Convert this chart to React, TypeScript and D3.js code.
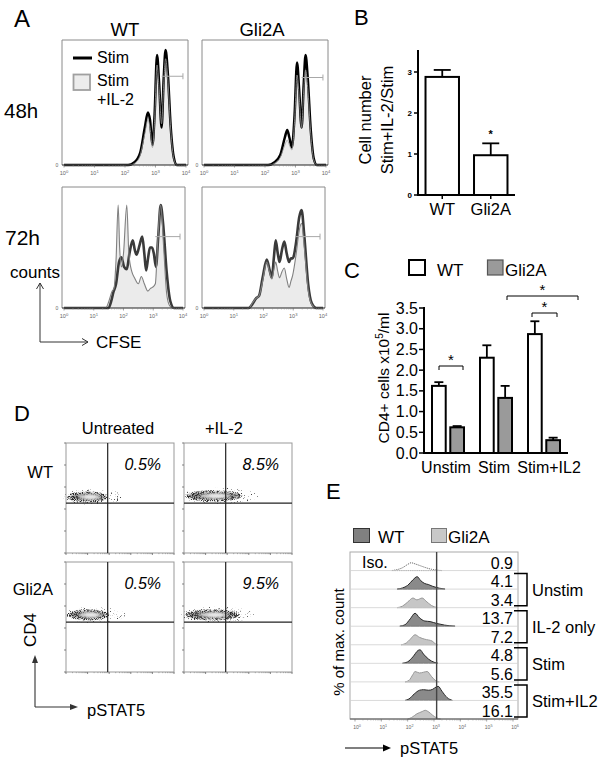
import React from "react";
import * as d3 from "d3";

type P = [number, number];
const FONT = "'Liberation Sans', Arial, Helvetica, sans-serif";

// ---------- Panel A data: [log10 CFSE, relative count] ----------
const wt48Stim: P[] = [[0,0],[2.1,0],[2.3,0.02],[2.5,0.1],[2.65,0.3],[2.75,0.42],[2.82,0.36],[2.9,0.16],[2.97,0.4],[3.05,0.88],[3.12,0.65],[3.2,0.3],[3.27,0.7],[3.33,0.92],[3.4,0.75],[3.5,0.3],[3.6,0.06],[3.7,0],[4,0]];
const wt48Il2: P[] = [[0,0],[2.15,0],[2.35,0.02],[2.5,0.08],[2.65,0.25],[2.75,0.36],[2.82,0.3],[2.9,0.14],[2.97,0.35],[3.05,0.8],[3.12,0.6],[3.2,0.33],[3.27,0.65],[3.33,0.85],[3.4,0.7],[3.5,0.28],[3.6,0.05],[3.7,0],[4,0]];
const gli48Stim: P[] = [[0,0],[2.1,0],[2.3,0.02],[2.5,0.08],[2.65,0.22],[2.73,0.28],[2.8,0.22],[2.88,0.14],[2.97,0.4],[3.05,0.82],[3.12,0.6],[3.2,0.3],[3.27,0.65],[3.33,0.88],[3.4,0.7],[3.5,0.28],[3.6,0.05],[3.7,0],[4,0]];
const gli48Il2: P[] = [[0,0],[2.15,0],[2.35,0.02],[2.5,0.06],[2.65,0.16],[2.73,0.2],[2.8,0.16],[2.88,0.12],[2.97,0.35],[3.05,0.72],[3.12,0.55],[3.2,0.3],[3.27,0.6],[3.33,0.76],[3.4,0.62],[3.5,0.25],[3.6,0.04],[3.7,0],[4,0]];
const wt72Stim: P[] = [[0,0],[1.5,0],[1.58,0.05],[1.66,0.13],[1.75,0.2],[1.85,0.38],[1.93,0.42],[2.02,0.34],[2.11,0.32],[2.2,0.45],[2.31,0.56],[2.38,0.48],[2.44,0.44],[2.54,0.52],[2.63,0.59],[2.7,0.45],[2.76,0.31],[2.83,0.42],[2.89,0.5],[2.96,0.5],[3.02,0.45],[3.09,0.34],[3.17,0.6],[3.25,0.85],[3.33,0.7],[3.45,0.3],[3.57,0.06],[3.7,0],[4,0]];
const wt72Il2: P[] = [[0,0],[1.4,0],[1.5,0.05],[1.62,0.14],[1.68,0.16],[1.75,0.4],[1.82,0.85],[1.87,0.5],[1.93,0.34],[2.0,0.45],[2.11,0.85],[2.18,0.45],[2.28,0.3],[2.37,0.25],[2.5,0.2],[2.6,0.26],[2.7,0.2],[2.82,0.14],[2.9,0.16],[2.97,0.17],[3.07,0.2],[3.15,0.55],[3.25,0.85],[3.35,0.5],[3.45,0.12],[3.55,0.02],[3.67,0],[4,0]];
const gli72Stim: P[] = [[0,0],[1.5,0],[1.62,0.03],[1.75,0.08],[1.85,0.1],[1.97,0.25],[2.11,0.4],[2.2,0.32],[2.28,0.25],[2.35,0.42],[2.41,0.56],[2.48,0.45],[2.54,0.38],[2.62,0.48],[2.7,0.55],[2.78,0.45],[2.86,0.38],[2.92,0.41],[2.98,0.41],[3.1,0.55],[3.2,0.75],[3.28,0.81],[3.37,0.6],[3.5,0.2],[3.62,0.04],[3.77,0],[4,0]];
const gli72Il2: P[] = [[0,0],[1.52,0],[1.62,0.04],[1.75,0.08],[1.85,0.1],[1.97,0.22],[2.11,0.38],[2.2,0.3],[2.28,0.24],[2.35,0.32],[2.41,0.38],[2.48,0.3],[2.54,0.25],[2.62,0.3],[2.7,0.33],[2.78,0.24],[2.86,0.17],[2.92,0.22],[2.98,0.27],[3.1,0.45],[3.2,0.64],[3.28,0.7],[3.37,0.5],[3.5,0.15],[3.62,0.03],[3.75,0],[4,0]];
// gate: [from log, to log, height]
const A_GATES: [number, number, number][] = [[3.2,3.9,0.71],[3.2,3.9,0.7],[3.07,3.9,0.59],[3.07,3.9,0.59]];
const A_DECADES = [0,1,2,3,4];
const A_COLS = ["WT","Gli2A"];
const A_ROWS = ["48h","72h"];

// ---------- Panel B ----------
const B_GROUPS = ["WT","Gli2A"];
const B_MEANS = [2.88, 0.97];
const B_SEM = [0.17, 0.29];
const B_TICKS = [0,1,2,3];

// ---------- Panel C ----------
const C_GROUPS = ["Unstim","Stim","Stim+IL2"];
const C_SERIES = ["WT","Gli2A"];
const C_WT = [1.62, 2.30, 2.87];
const C_WT_SEM = [0.09, 0.30, 0.31];
const C_GLI = [0.62, 1.33, 0.31];
const C_GLI_SEM = [0.03, 0.29, 0.06];
const C_TICKS = [0,0.5,1,1.5,2,2.5,3,3.5];

// ---------- Panel D ----------
const D_COLS = ["Untreated","+IL-2"];
const D_ROWS = ["WT","Gli2A"];
const D_PCT = [["0.5%","8.5%"],["0.5%","9.5%"]];
const D_BLOB_HI = [[1.95, 2.7],[2.0, 2.55]]; // upper pSTAT5 (log) extent of the population
const D_BLOB_CD4 = [[2.55, 2.6],[2.6, 2.6]]; // CD4 (log) centre

// ---------- Panel E ----------
const E_VALUES = ["0.9","4.1","3.4","13.7","7.2","4.8","5.6","35.5","16.1"];
const E_KIND = ["iso","wt","gli","wt","gli","wt","gli","wt","gli"];
const E_GROUPS = ["Unstim","IL-2 only","Stim","Stim+IL2"];
const E_HISTS: P[][] = [
  [[1.4,0],[1.6,0.05],[1.8,0.15],[2.0,0.33],[2.13,0.42],[2.3,0.35],[2.5,0.25],[2.7,0.15],[2.9,0.07],[3.12,0.02],[3.3,0]],
  [[1.6,0],[1.8,0.06],[2.0,0.2],[2.2,0.5],[2.36,0.67],[2.5,0.45],[2.65,0.3],[2.78,0.25],[2.95,0.15],[3.2,0.05],[3.42,0]],
  [[1.6,0],[1.8,0.08],[2.0,0.3],[2.2,0.52],[2.35,0.42],[2.55,0.52],[2.7,0.35],[2.9,0.12],[3.12,0]],
  [[1.7,0],[1.9,0.08],[2.1,0.4],[2.28,0.7],[2.45,0.45],[2.65,0.28],[2.85,0.25],[3.1,0.15],[3.4,0.06],[3.8,0]],
  [[1.75,0],[1.95,0.1],[2.1,0.3],[2.28,0.54],[2.45,0.4],[2.65,0.3],[2.93,0.2],[3.05,0.05],[3.15,0]],
  [[1.8,0],[2.0,0.08],[2.2,0.35],[2.4,0.7],[2.47,0.73],[2.6,0.5],[2.8,0.22],[3.0,0.06],[3.15,0]],
  [[1.9,0],[2.05,0.08],[2.2,0.4],[2.28,0.56],[2.45,0.48],[2.6,0.52],[2.74,0.56],[2.9,0.3],[3.05,0.08],[3.2,0]],
  [[1.9,0],[2.05,0.08],[2.25,0.35],[2.45,0.55],[2.6,0.58],[2.8,0.55],[2.95,0.6],[3.1,0.74],[3.16,0.76],[3.3,0.5],[3.5,0.15],[3.7,0]],
  [[2.0,0],[2.15,0.08],[2.35,0.28],[2.55,0.4],[2.66,0.47],[2.8,0.38],[2.95,0.2],[3.1,0.06],[3.25,0]],
];
const E_GATE = 3.1;
const E_DECADES = [0,1,2,3,4,5,6];

function minorTicks(nDec: number): number[] {
  const out: number[] = [];
  for (let d = 0; d < nDec; d++) for (let k = 2; k <= 9; k++) out.push(d + Math.log10(k));
  return out;
}

function Pow({ x, y, e, size = 5.5, fill = "#666" }: any) {
  return (
    <text x={x} y={y} fontSize={size} fill={fill} textAnchor="middle">
      10<tspan dy={-size * 0.45} fontSize={size * 0.75}>{e}</tspan>
    </text>
  );
}

function CfseBox({ l, t, r, b, stim, il2, gate, late }: any) {
  const x = d3.scaleLinear().domain([0, 4]).range([l + 2, r - 2]);
  const y = d3.scaleLinear().domain([0, 1]).range([b, t]);
  const area = d3.area<P>().x(d => x(d[0])).y0(b).y1(d => y(d[1])).curve(d3.curveMonotoneX);
  const line = d3.line<P>().x(d => x(d[0])).y(d => y(d[1])).curve(d3.curveMonotoneX);
  return (
    <g>
      <path d={`M${l},${b}V${t}H${r}V${b}`} fill="none" stroke="#8a8a8a" strokeWidth={1} />
      <path d={area(il2) || ""} fill="#ebebeb" />
      <path d={line(stim) || ""} fill="none" stroke={late ? "#3a3a3a" : "#000"} strokeWidth={late ? 2.6 : 2.5} />
      <path d={line(il2) || ""} fill="none" stroke={late ? "#808080" : "#9a9a9a"} strokeWidth={late ? 1.1 : 0.8} />
      <line x1={l} x2={r} y1={b} y2={b} stroke="#222" strokeWidth={1.2} />
      {A_DECADES.map(d => <line key={d} x1={x(d)} x2={x(d)} y1={b} y2={b + 2.5} stroke="#666" strokeWidth={0.6} />)}
      {minorTicks(4).map((d, i) => <line key={i} x1={x(d)} x2={x(d)} y1={b} y2={b + 1.5} stroke="#888" strokeWidth={0.5} />)}
      {A_DECADES.map(d => <Pow key={d} x={x(d)} y={b + 10} e={d} />)}
      <text x={l - 5} y={b + 1.5} fontSize={5} fill="#666" textAnchor="middle">0</text>
      <line x1={x(gate[0])} x2={x(gate[1])} y1={y(gate[2])} y2={y(gate[2])} stroke="#a8a8a8" strokeWidth={1} />
      <line x1={x(gate[1])} x2={x(gate[1])} y1={y(gate[2]) - 3} y2={y(gate[2]) + 3} stroke="#a8a8a8" strokeWidth={1} />
    </g>
  );
}

function PanelA() {
  const boxes = [
    { l: 62, t: 40, r: 188, b: 165 },
    { l: 202, t: 40, r: 328, b: 165 },
    { l: 62, t: 187, r: 185, b: 308 },
    { l: 202, t: 187, r: 325, b: 308 },
  ];
  const curves = [[wt48Stim, wt48Il2], [gli48Stim, gli48Il2], [wt72Stim, wt72Il2], [gli72Stim, gli72Il2]];
  return (
    <g>
      <text x={14} y={27} fontSize={24}>A</text>
      <text x={125} y={36} fontSize={18.5} textAnchor="middle">{A_COLS[0]}</text>
      <text x={262} y={36} fontSize={18.5} textAnchor="middle">{A_COLS[1]}</text>
      <text x={4} y={118} fontSize={20.5}>{A_ROWS[0]}</text>
      <text x={5} y={245} fontSize={21}>{A_ROWS[1]}</text>
      {boxes.map((bx, i) => (
        <CfseBox key={i} {...bx} stim={curves[i][0]} il2={curves[i][1]} gate={A_GATES[i]} late={i >= 2} />
      ))}
      <line x1={73} x2={92} y1={58} y2={58} stroke="#000" strokeWidth={3} />
      <text x={97} y={63} fontSize={16}>Stim</text>
      <rect x={73.5} y={74.5} width={16.5} height={15.5} fill="#ececec" stroke="#a0a0a0" strokeWidth={1.8} />
      <text x={97} y={86} fontSize={16}>Stim</text>
      <text x={97} y={105} fontSize={16}>+IL-2</text>
      <text x={10} y={278} fontSize={17}>counts</text>
      <path d="M40,283V342H88" fill="none" stroke="#333" strokeWidth={1} />
      <path d="M36.5,289L40,283L43.5,289" fill="none" stroke="#333" strokeWidth={1} />
      <path d="M82,338.5L88,342L82,345.5" fill="none" stroke="#333" strokeWidth={1} />
      <text x={96} y={348} fontSize={17}>CFSE</text>
    </g>
  );
}

function PanelB() {
  const x = d3.scaleBand<string>().domain(B_GROUPS).range([418, 515]).paddingInner(0.31).paddingOuter(0.155);
  const y = d3.scaleLinear().domain([0, 3.5]).range([195, 51.5]);
  return (
    <g>
      <text x={354} y={25} fontSize={22}>B</text>
      <text transform="translate(371,120) rotate(-90)" fontSize={16.5} textAnchor="middle">Cell number</text>
      <text transform="translate(393,120) rotate(-90)" fontSize={16.5} textAnchor="middle">Stim+IL-2/Stim</text>
      {B_GROUPS.map((g, i) => {
        const x0 = x(g)!, w = x.bandwidth(), cx = x0 + w / 2;
        const top = y(B_MEANS[i] + B_SEM[i]);
        return (
          <g key={g}>
            <line x1={cx} x2={cx} y1={y(B_MEANS[i])} y2={top} stroke="#000" strokeWidth={1.8} />
            <line x1={cx - 8.5} x2={cx + 8.5} y1={top} y2={top} stroke="#000" strokeWidth={1.8} />
            <rect x={x0} y={y(B_MEANS[i])} width={w} height={y(0) - y(B_MEANS[i])} fill="#fff" stroke="#000" strokeWidth={2} />
            <line x1={cx} x2={cx} y1={195} y2={199} stroke="#000" strokeWidth={1.5} />
            <text x={cx} y={215} fontSize={16.5} textAnchor="middle">{g}</text>
          </g>
        );
      })}
      <text x={x("Gli2A")! + x.bandwidth() / 2} y={138} fontSize={11} fontWeight="bold" textAnchor="middle">*</text>
      <line x1={418} x2={418} y1={50} y2={195} stroke="#000" strokeWidth={2} />
      <line x1={417} x2={515} y1={195} y2={195} stroke="#000" strokeWidth={2} />
      {B_TICKS.map(t => (
        <g key={t}>
          <line x1={414} x2={418} y1={y(t)} y2={y(t)} stroke="#000" strokeWidth={1.5} />
          <text x={412} y={y(t) + 3} fontSize={8} fontWeight="bold" textAnchor="end">{t}</text>
        </g>
      ))}
    </g>
  );
}

function PanelC() {
  const x = d3.scaleBand<string>().domain(C_GROUPS).range([424, 568]);
  const sub = d3.scaleBand<string>().domain(C_SERIES).range([-16, 16]).paddingInner(0.25);
  const y = d3.scaleLinear().domain([0, 3.5]).range([453, 308]);
  const vals = [C_WT, C_GLI], sems = [C_WT_SEM, C_GLI_SEM];
  const fills = ["#fff", "#9a9a9a"];
  const sig = (x1: number, x2: number, yy: number) => (
    <g>
      <path d={`M${x1},${yy + 4}V${yy}H${x2}V${yy + 4}`} fill="none" stroke="#000" strokeWidth={1} />
      <text x={(x1 + x2) / 2} y={yy - 1} fontSize={15} textAnchor="middle">*</text>
    </g>
  );
  return (
    <g>
      <text x={344} y={278} fontSize={22}>C</text>
      <rect x={409} y={260} width={16} height={15} fill="#fff" stroke="#000" strokeWidth={2} />
      <text x={437} y={276} fontSize={17}>{C_SERIES[0]}</text>
      <rect x={487.5} y={260} width={15.5} height={15} fill="#9a9a9a" stroke="#555" strokeWidth={1.2} />
      <text x={505} y={276} fontSize={17}>{C_SERIES[1]}</text>
      <text transform="translate(389,378) rotate(-90)" fontSize={15.5} textAnchor="middle">
        CD4+ cells x10<tspan dy={-6} fontSize={10}>5</tspan><tspan dy={6}>/ml</tspan>
      </text>
      {C_GROUPS.map((g, gi) => {
        const c = x(g)! + x.bandwidth() / 2;
        return (
          <g key={g}>
            {C_SERIES.map((s, si) => {
              const bx = c + sub(s)!, w = sub.bandwidth(), v = vals[si][gi];
              const top = y(v + sems[si][gi]);
              return (
                <g key={s}>
                  <line x1={bx + w / 2} x2={bx + w / 2} y1={y(v)} y2={top} stroke="#000" strokeWidth={1.8} />
                  <line x1={bx + w / 2 - 4.5} x2={bx + w / 2 + 4.5} y1={top} y2={top} stroke="#000" strokeWidth={1.8} />
                  <rect x={bx} y={y(v)} width={w} height={y(0) - y(v)} fill={fills[si]} stroke="#000" strokeWidth={2} />
                </g>
              );
            })}
            <text x={c - (gi === 2 ? -5 : 2)} y={473} fontSize={16} textAnchor="middle">{g}</text>
          </g>
        );
      })}
      {sig(439, 463, 366)}
      {sig(532, 557, 313)}
      {sig(507, 578, 296)}
      <line x1={424} x2={424} y1={307} y2={454} stroke="#000" strokeWidth={2} />
      <line x1={423} x2={568} y1={453} y2={453} stroke="#000" strokeWidth={2} />
      {C_TICKS.map(t => (
        <g key={t}>
          <line x1={419} x2={424} y1={y(t)} y2={y(t)} stroke="#000" strokeWidth={1.5} />
          <text x={418} y={y(t) + 5.5} fontSize={16} textAnchor="end">{t.toFixed(1)}</text>
        </g>
      ))}
    </g>
  );
}

function PanelD() {
  const lefts = [66, 184], tops = [443, 562], W = 108, H = 110;
  const gateX = 1.93, gateY = 2.27;
  return (
    <g>
      <defs>
        <filter id="grain" x="-20%" y="-100%" width="140%" height="300%">
          <feTurbulence type="fractalNoise" baseFrequency="1.1" numOctaves="1" seed="4" result="n" />
          <feColorMatrix in="n" type="matrix" values="0 0 0 0 0  0 0 0 0 0  0 0 0 0 0  7 0 0 0 -3.2" result="a" />
          <feComposite in="SourceGraphic" in2="a" operator="in" />
        </filter>
        <filter id="sparse" x="-20%" y="-100%" width="140%" height="300%">
          <feTurbulence type="fractalNoise" baseFrequency="1.3" numOctaves="1" seed="9" result="n" />
          <feColorMatrix in="n" type="matrix" values="0 0 0 0 0  0 0 0 0 0  0 0 0 0 0  9 0 0 0 -5.6" result="a" />
          <feComposite in="SourceGraphic" in2="a" operator="in" />
        </filter>
        <filter id="soft" x="-20%" y="-100%" width="140%" height="300%">
          <feGaussianBlur stdDeviation="1.2" />
        </filter>
      </defs>
      <text x={14} y={421} fontSize={22}>D</text>
      {D_COLS.map((c, ci) => (
        <text key={c} x={lefts[ci] + (ci === 0 ? 52 : 40)} y={434} fontSize={16.5} textAnchor="middle">{c}</text>
      ))}
      {D_ROWS.map((r, ri) => (
        <text key={r} x={53} y={tops[ri] + (ri === 0 ? 35 : 33)} fontSize={16.5} textAnchor="end">{r}</text>
      ))}
      {D_ROWS.map((r, ri) => D_COLS.map((c, ci) => {
        const l = lefts[ci], t = tops[ri];
        const x = d3.scaleLinear().domain([0, 5]).range([l, l + W]);
        const y = d3.scaleLinear().domain([0, 5]).range([t + H, t]);
        const x0 = x(0) + 1, x1 = x(D_BLOB_HI[ri][ci]);
        const cx = (x0 + x1) / 2, rx = (x1 - x0) / 2;
        const cy = y(D_BLOB_CD4[ri][ci]);
        return (
          <g key={r + c}>
            <rect x={l} y={t} width={W} height={H} fill="#fff" stroke="#999" strokeWidth={1} />
            <ellipse cx={cx + 6} cy={cy} rx={rx + 10} ry={8} fill="#444" filter="url(#sparse)" />
            <ellipse cx={cx} cy={cy} rx={rx} ry={5.5} fill="#2a2a2a" filter="url(#grain)" />
            <ellipse cx={cx} cy={cy} rx={rx - 3} ry={3.8} fill="#333" opacity={0.55} filter="url(#soft)" />
            <ellipse cx={cx + 2} cy={cy} rx={rx * 0.55} ry={2.6} fill="#d0d0d0" filter="url(#soft)" />
            <ellipse cx={cx + 3} cy={cy} rx={rx * 0.3} ry={1.6} fill="#ececec" filter="url(#soft)" />
            <line x1={x(gateX)} x2={x(gateX)} y1={t} y2={t + H} stroke="#222" strokeWidth={1.2} />
            <line x1={l} x2={l + W} y1={y(gateY)} y2={y(gateY)} stroke="#222" strokeWidth={1.2} />
            {[0, 1, 2, 3, 4, 5].map(d => <line key={"y" + d} x1={l - 2} x2={l} y1={y(d)} y2={y(d)} stroke="#555" strokeWidth={0.7} />)}
            {[0, 1, 2, 3, 4, 5].map(d => <line key={"x" + d} x1={x(d)} x2={x(d)} y1={t + H} y2={t + H + 2} stroke="#555" strokeWidth={0.7} />)}
            {minorTicks(5).map((d, i) => <line key={"m" + i} x1={x(d)} x2={x(d)} y1={t + H} y2={t + H + 1.2} stroke="#777" strokeWidth={0.5} />)}
            <text x={l + 95} y={t + 27} fontSize={16} fontStyle="italic" textAnchor="end">{D_PCT[ri][ci]}</text>
          </g>
        );
      }))}
      <text transform="translate(36,630) rotate(-90)" fontSize={17} textAnchor="middle">CD4</text>
      <path d="M35,707V660M35,707H72" fill="none" stroke="#333" strokeWidth={1.1} />
      <path d="M32,663L35,655L38,663Z" fill="#333" />
      <path d="M70,704L78,707L70,710Z" fill="#333" />
      <text x={87} y={716} fontSize={16.5}>pSTAT5</text>
    </g>
  );
}

function PanelE() {
  const l = 350, r = 518, t = 552, b = 719;
  const rowH = (b - t) / E_VALUES.length;
  const x = d3.scaleLinear().domain([0, 6]).range([355, 513]);
  const rowTop = (i: number) => t + i * rowH;
  const fills: Record<string, string> = { iso: "none", wt: "#8a8a8a", gli: "#c6c6c6" };
  const strokes: Record<string, string> = { iso: "#666", wt: "#2a2a2a", gli: "#999" };
  return (
    <g>
      <text x={326} y={499} fontSize={22}>E</text>
      <rect x={353.5} y={528.5} width={16} height={14} fill="#808080" stroke="#333" strokeWidth={1} />
      <text x={378} y={543} fontSize={17}>WT</text>
      <rect x={431.5} y={528.5} width={15} height={14} fill="#c8c8c8" stroke="#777" strokeWidth={1} />
      <text x={448} y={543} fontSize={17}>Gli2A</text>
      <rect x={l} y={t} width={r - l} height={b - t} fill="#fff" stroke="#aaa" strokeWidth={1} />
      {E_VALUES.map((v, i) => {
        const rb = rowTop(i + 1);
        const y = d3.scaleLinear().domain([0, 1]).range([rb, rb - rowH]);
        const area = d3.area<P>().x(d => x(d[0])).y0(rb).y1(d => y(d[1])).curve(d3.curveMonotoneX);
        const k = E_KIND[i];
        return (
          <g key={i}>
            {i > 0 && <line x1={l} x2={r} y1={rowTop(i)} y2={rowTop(i)} stroke="#d0d0d0" strokeWidth={0.8} />}
            <path d={area(E_HISTS[i]) || ""} fill={fills[k]} stroke={strokes[k]} strokeWidth={k === "iso" ? 1 : 1}
              strokeDasharray={k === "iso" ? "1.2 1" : undefined} />
            <text x={513} y={rb - 2} fontSize={16} textAnchor="end">{v}</text>
          </g>
        );
      })}
      <text x={362} y={rowTop(1) - 3} fontSize={16}>Iso.</text>
      <line x1={x(E_GATE)} x2={x(E_GATE)} y1={t} y2={b} stroke="#444" strokeWidth={1.4} />
      {E_GROUPS.map((g, gi) => {
        const r1 = 1 + gi * 2;
        const yt = rowTop(r1) + 3, yb = rowTop(r1 + 2) - 2;
        return (
          <g key={g}>
            <path d={`M514,${yt}H527V${yb}H514`} fill="none" stroke="#000" strokeWidth={1.5} />
            <text x={532} y={(yt + yb) / 2 + 6} fontSize={16.5}>{g}</text>
          </g>
        );
      })}
      <line x1={l} x2={r} y1={b} y2={b} stroke="#555" strokeWidth={1} />
      {E_DECADES.map(d => <line key={d} x1={x(d)} x2={x(d)} y1={b} y2={b + 2.5} stroke="#666" strokeWidth={0.6} />)}
      {minorTicks(6).map((d, i) => <line key={i} x1={x(d)} x2={x(d)} y1={b} y2={b + 1.5} stroke="#888" strokeWidth={0.5} />)}
      {E_DECADES.map(d => <Pow key={d} x={x(d) + 2} y={b + 10} e={d} size={5} />)}
      <text transform="translate(344,642) rotate(-90)" fontSize={15} textAnchor="middle">% of max. count</text>
      <line x1={345} x2={385} y1={748} y2={748} stroke="#000" strokeWidth={1.2} />
      <path d="M383,744.5L391,748L383,751.5Z" fill="#000" />
      <text x={400} y={754} fontSize={16.5}>pSTAT5</text>
    </g>
  );
}

export default function App() {
  return (
    <svg width={603} height={763} viewBox="0 0 603 763" fontFamily={FONT}
      style={{ position: "absolute", left: 0, top: 0, background: "#fff" }}>
      <rect width={603} height={763} fill="#fff" />
      <PanelA />
      <PanelB />
      <PanelC />
      <PanelD />
      <PanelE />
    </svg>
  );
}
